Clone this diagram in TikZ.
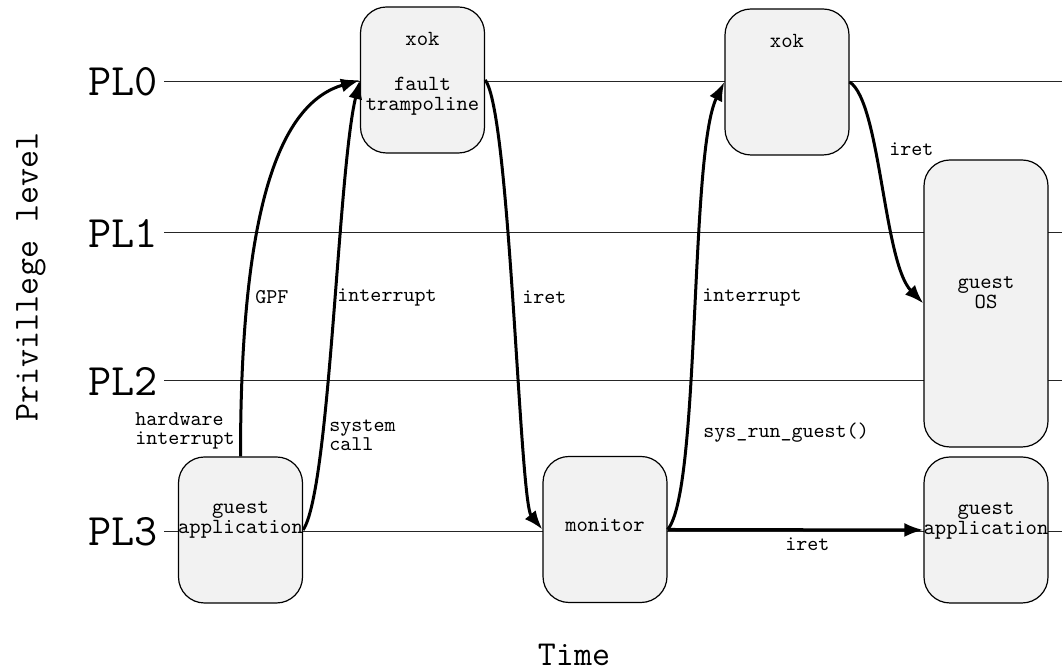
\documentclass[tikz,border=0pt]{standalone}
\usepackage{tikz}
\usetikzlibrary{arrows.meta,positioning,calc}

\begin{document}
\begin{tikzpicture}[x = .5pt, y = .5pt,
  box/.style = {draw, rounded corners = 13pt, fill = black!5, line width = .6pt,
    minimum width = 62pt, minimum height = 73pt, inner sep = 0pt},
  boxtext/.style = {align = center, inner sep = 0pt,
    font = \fontsize{10.8}{10}\selectfont\ttfamily},
  lbl/.style = {anchor = west, align = left, inner sep = 0pt,
    font = \fontsize{10.5}{9.6}\selectfont\ttfamily},
  trans/.style = {-{Latex[length = 9.5pt, width = 7pt]}, line width = 1.5pt},
  level/.style = {anchor = east, inner sep = 3pt,
    font = \fontsize{22.5}{22}\selectfont\ttfamily},
  axis/.style = {font = \fontsize{17.5}{18}\selectfont\ttfamily}]
  \useasboundingbox (0,0) rectangle (1062,672);

  % privilege levels
  \foreach \i/\y in {0/590, 1/439, 2/291, 3/140} {
    \node[level] (pl\i) at (164,\y) {PL\i};
    \coordinate (end\i) at (1062,\y);
    \draw[line width = .5pt, black!85] (pl\i) -- (end\i);
  }
  \node[axis, rotate = 90] (ylab) at (31,395) {Privillege level};
  \node[axis] (xlab) at (574,17) {Time};

  % boxes
  \node[box] (app) at (240.5,142) {};
  \node[box] (tramp) at (422.5,592) {};
  \node[box] (mon) at (605,142.5) {};
  \node[box] (xok) at (787,590) {};
  \node[box, minimum height = 143.5pt] (os) at (986,368.5) {};
  \node[box] (guestapp) at (986,142) {};

  \node[boxtext] (apptxt) at ([yshift = 5pt]app.center) {guest\\application};
  \node[boxtext] (tramptop) at ([yshift = -16.5pt]tramp.north) {xok};
  \node[boxtext] (tramptxt) at ([yshift = -8pt]tramp.center) {fault\\trampoline};
  \node[boxtext] (montxt) at ([yshift = 2pt]mon.center) {monitor};
  \node[boxtext] (xoktxt) at ([yshift = -16.5pt]xok.north) {xok};
  \node[boxtext] (ostxt) at ([yshift = 5.5pt]os.center) {guest\\OS};
  \node[boxtext] (guestapptxt) at ([yshift = 4.5pt]guestapp.center) {guest\\application};

  % transitions
  \draw[trans] (app.north) .. controls +(0,265) and +(-75,-22) .. (tramp.west);
  \draw[trans] (app.east) .. controls +(27,40) and +(-22,-90) .. (tramp.west);
  \draw[trans] (tramp.east) .. controls +(25,-30) and +(-23,28) .. (mon.west);
  \draw[trans] (mon.east) .. controls +(33,38) and +(-35,-70) .. (xok.west);
  \draw[trans] (mon.east) -- (guestapp.west);
  \draw[trans] (xok.east) .. controls +(31,-20) and +(-40,41) .. (os.west);

  % labels on the transitions
  \node[lbl] (gpf) at (255,375) {GPF};
  \node[lbl] (intr) at (337,375) {interrupt};
  \node[lbl] (iret) at (522,375) {iret};
  \node[lbl] (intrb) at (702,375) {interrupt};
  \node[lbl] (hwint) at (135,241) {hardware\\interrupt};
  \node[lbl] (syscall) at (329,237) {system\\call};
  \node[lbl] (runguest) at (703,239) {sys\_run\_guest()};
  \node[lbl] (iretb) at (785,128) {iret};
  \node[lbl] (iretc) at (889,523) {iret};
\end{tikzpicture}
\end{document}
